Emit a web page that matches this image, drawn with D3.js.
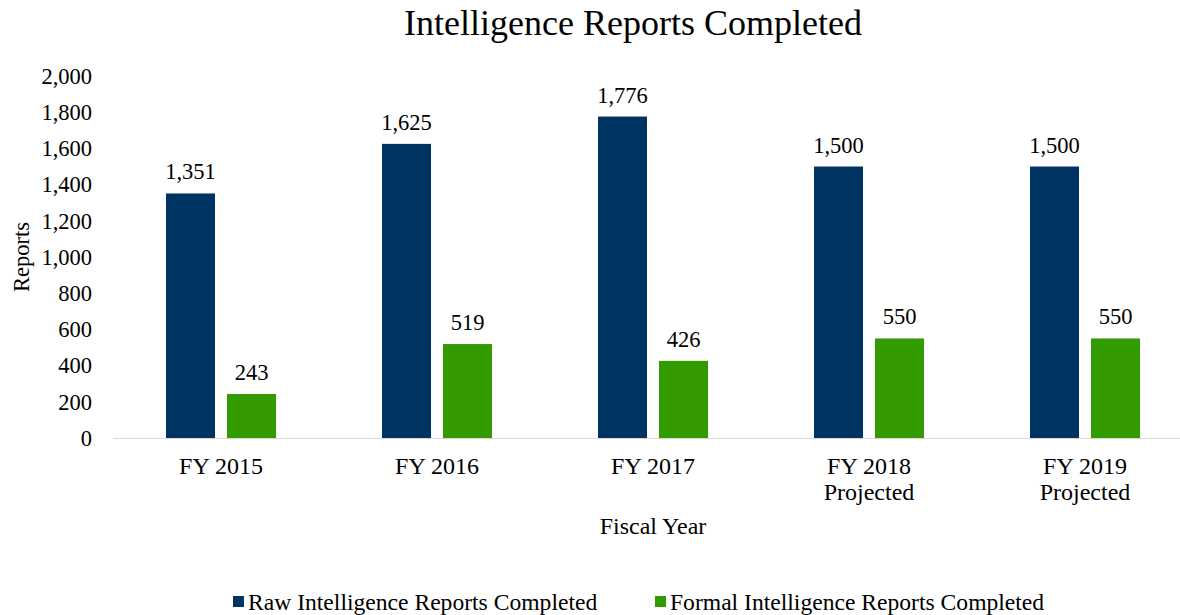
<!DOCTYPE html>
<html>
<head>
<meta charset="utf-8">
<script src="https://cdn.jsdelivr.net/npm/d3@7"></script>
<style>
  body { margin: 0; background: #fff; }
  svg text { font-family: "Liberation Serif", "Times New Roman", "DejaVu Serif", serif; fill: #000; }
</style>
</head>
<body>
<svg id="chart"></svg>
<script>
// Chart data
const categories = [["FY 2015"], ["FY 2016"], ["FY 2017"], ["FY 2018", "Projected"], ["FY 2019", "Projected"]];
const rawReports = [1351, 1625, 1776, 1500, 1500];
const formalReports = [243, 519, 426, 550, 550];
const yTicks = [0, 200, 400, 600, 800, 1000, 1200, 1400, 1600, 1800, 2000];
const seriesNames = ["Raw Intelligence Reports Completed", "Formal Intelligence Reports Completed"];
const seriesColors = ["#003462", "#339a00"];

const width = 1180;
const height = 615;
const fs = "22.5px";
const fsCat = "24px";

const svg = d3.select("#chart")
  .attr("width", width)
  .attr("height", height);

const keys = categories.map((d) => d.join(" "));

const x = d3.scaleBand().domain(keys).range([113, 1193]);
const y = d3.scaleLinear().domain([0, 2000]).range([438, 76]);

// Title
svg.append("text")
  .attr("x", 633)
  .attr("y", 35)
  .attr("text-anchor", "middle")
  .style("font-size", "36px")
  .text("Intelligence Reports Completed");

// Y tick labels
svg.selectAll(".ytick")
  .data(yTicks)
  .enter()
  .append("text")
  .attr("class", "ytick")
  .attr("x", 92)
  .attr("y", (d) => y(d))
  .attr("dy", "0.35em")
  .attr("text-anchor", "end")
  .style("font-size", fs)
  .text((d) => d3.format(",")(d));

// Y axis title
svg.append("text")
  .attr("transform", `translate(29, ${y(1000)}) rotate(-90)`)
  .attr("text-anchor", "middle")
  .style("font-size", fs)
  .text("Reports");

// Baseline
svg.append("line")
  .attr("x1", 113)
  .attr("x2", 1180)
  .attr("y1", y(0) + 0.5)
  .attr("y2", y(0) + 0.5)
  .attr("stroke", "#d9d9d9")
  .attr("stroke-width", 1);

const barW = 49;
const offsets = [-30.5, 30.5];
const series = [rawReports, formalReports];

series.forEach((vals, s) => {
  const data = vals.map((v, i) => ({ key: keys[i], value: v }));
  svg.selectAll(`.bar${s}`)
    .data(data)
    .enter()
    .append("rect")
    .attr("class", `bar${s}`)
    .attr("x", (d) => x(d.key) + x.bandwidth() / 2 + offsets[s] - barW / 2)
    .attr("y", (d) => y(d.value))
    .attr("width", barW)
    .attr("height", (d) => y(0) - y(d.value))
    .attr("fill", seriesColors[s]);

  svg.selectAll(`.lbl${s}`)
    .data(data)
    .enter()
    .append("text")
    .attr("class", `lbl${s}`)
    .attr("x", (d) => x(d.key) + x.bandwidth() / 2 + offsets[s])
    .attr("y", (d) => y(d.value) - 14)
    .attr("text-anchor", "middle")
    .style("font-size", fs)
    .text((d) => d3.format(",")(d.value));
});

// Category labels
const cat = svg.selectAll(".cat")
  .data(categories)
  .enter()
  .append("text")
  .attr("class", "cat")
  .attr("x", (d) => x(d.join(" ")) + x.bandwidth() / 2)
  .attr("y", 474)
  .attr("text-anchor", "middle")
  .style("font-size", fsCat);

cat.selectAll("tspan")
  .data((d) => d)
  .enter()
  .append("tspan")
  .attr("x", function () { return d3.select(this.parentNode).attr("x"); })
  .attr("dy", (d, i) => (i === 0 ? 0 : "1.08em"))
  .text((d) => d);

// X axis title
svg.append("text")
  .attr("x", 653)
  .attr("y", 534)
  .attr("text-anchor", "middle")
  .style("font-size", fsCat)
  .text("Fiscal Year");

// Legend
const legendX = [233, 655];
seriesNames.forEach((name, i) => {
  svg.append("rect")
    .attr("x", legendX[i])
    .attr("y", 596)
    .attr("width", 11)
    .attr("height", 11)
    .attr("fill", seriesColors[i]);
  svg.append("text")
    .attr("x", legendX[i] + 15)
    .attr("y", 610)
    .style("font-size", "23.6px")
    .text(name);
});
</script>
</body>
</html>
